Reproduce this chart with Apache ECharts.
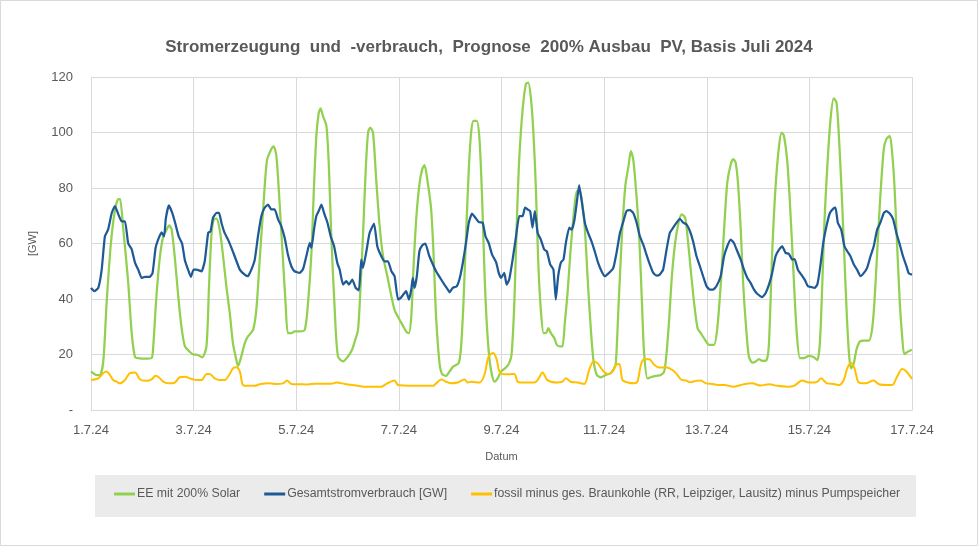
<!DOCTYPE html>
<html>
<head>
<meta charset="utf-8">
<script src="https://cdn.jsdelivr.net/npm/echarts@6/dist/echarts.min.js"></script>
<style>html,body{margin:0;padding:0;background:#fff}#c{width:978px;height:546px}</style>
</head>
<body>
<div id="c"></div>
<script>
// x values: hours since 1.7.24 00:00
const tickLabels = ['1.7.24','3.7.24','5.7.24','7.7.24','9.7.24','11.7.24','13.7.24','15.7.24','17.7.24'];
const seriesNames = ['EE mit 200% Solar','Gesamtstromverbrauch [GW]','fossil minus ges. Braunkohle (RR, Leipziger, Lausitz) minus Pumpspeicher'];

const eeSolar = [
[0,13.9],[2.7,12.6],[4.2,12.6],[5.8,18],[7.3,38.5],[9.3,60],[11.2,72],[12.8,76],[13.6,76],[15,66],[17.4,46],[19,28],[20.6,19],[22,18.7],[25,18.5],[28.3,18.7],[29,21.7],[30.6,41],[32.2,55],[33.8,62.6],[35.4,65],[36.6,66.5],[37.7,65],[39.2,55],[40.8,41],[42.3,30],[43.9,23],[46.2,21],[48,20],
[49.3,20],[52,19],[54,22.9],[55.2,44.6],[56.3,62.6],[57.4,68.7],[58.7,69],[60.2,65],[61.8,55.4],[63.3,44.6],[64.9,35],[66.4,24],[68,18],[68.8,15.9],[70.3,19.3],[71.9,24],[73.4,26.5],[75.8,28.9],[77.3,36],[78.9,54],[80.5,72],[82.3,90],[84.3,94],[85.4,95],[86.7,91.6],[88.2,74.7],[89.8,54],[91,38.5],[92.1,27.7],[93.7,27.7],[95.2,28.3],
[97.6,28.3],[100,28.9],[101.5,38.5],[103.1,56.6],[104.3,80.7],[105.4,98.8],[106.5,107],[107.4,108.7],[108.5,106],[110.1,102.4],[111.2,89],[112.4,62.6],[114,36],[115.5,19.3],[117.9,17.5],[120.2,19.3],[122.1,21.7],[123.6,25.3],[124.9,28.9],[126.1,44.6],[127.2,62.6],[128.5,86.7],[129.6,100],[130.6,101.8],[131.9,100],[133.4,83],[135,66.3],[136.6,55.4],[138.6,48.2],[140.5,41],[142,36],[144,33],[145.8,30.5],[147.4,28.3],[148.7,27.7],
[149.8,33.7],[150.8,50.6],[152.1,68.7],[153.6,81.3],[154.9,86.7],[156,88.2],[157.5,81.9],[159.1,72.3],[160.2,56.6],[161.4,33.7],[163,16.9],[164.2,13],[166.1,12.3],[167.7,13.9],[169.5,15.7],[172,16.9],[173.1,22.9],[174.2,38.5],[175.4,62.6],[176.7,86.7],[177.8,100],[178.9,104.2],[180.4,104.2],[181.7,97.6],[182.9,77],[184,50.6],[185.1,31.3],[186.6,16.9],[188.7,10.2],[190.2,11.4],[191.8,13.9],[194.1,15.3],[195.6,16.9],
[196.7,19.9],[198,38.5],[199.2,68.7],[200.3,90.4],[201.9,108.4],[203.4,117.5],[204.5,118],[205.8,112],[207,98.8],[208.1,79.5],[209.2,53],[210.4,36],[211.7,27.7],[212.8,27.7],[213.9,29.5],[215.1,27.7],[216.7,25.9],[217.9,23.5],[219.5,22.9],[220.5,22.9],[221.6,31.3],[222.9,42.2],[224.1,55.4],[225.7,69.9],[227.2,78.9],[228.3,78.9],[229.4,76.5],[231,65],[232.5,44.6],[233.8,28.9],[235,18],[236.6,12.6],[238.5,11.8],[240.8,12.6],[243.1,13.3],
[244.7,15],[245.5,16.9],[246.8,38.5],[248.3,62.6],[249.9,80.7],[251.4,87.9],[252.5,93.3],[253.6,90.4],[254.9,79.5],[256.4,62.6],[257.7,38.5],[258.7,20.5],[260.3,11.4],[261.8,11.8],[264.2,12.3],[266.5,12.6],[268.1,13.9],[269.2,20.5],[270.4,32.5],[271.7,48.2],[273.2,60.2],[274.8,67.5],[276.3,70.5],[277.9,69.3],[279,62.6],[280.5,50.6],[282.1,38.5],[283.7,29.5],[285.2,27.7],[287.2,25.3],[289.1,23.5],[291.4,23.5],[293,30],
[294.8,48.2],[296.1,65],[297.6,81.9],[299.2,88.5],[300.4,90.4],[301.5,89.2],[302.6,81.9],[303.9,65],[305.1,44.6],[306.5,28.9],[307.7,19.3],[309.3,17.1],[310.9,17.5],[312.4,18.3],[314,17.7],[316,18],[317.1,24],[318.6,56.6],[320.2,80.7],[321.8,95.1],[323,100],[324.1,98.8],[325.7,89.2],[326.9,74.7],[328.5,50.6],[330,28.9],[331.6,18.7],[333.4,18.7],[335.8,19.5],[338.1,19],[339.7,18],
[340.9,24],[342,44.6],[343.1,68.7],[344.3,86.7],[345.9,104.8],[347.4,112.3],[348.7,110.8],[349.8,98.8],[350.9,81.9],[352.1,60.2],[353.4,36],[354.5,20.5],[355.5,15],[356.8,16.9],[358,21.7],[359.6,24.7],[361.5,25],[363.8,25],[365.3,28.9],[366.4,38.5],[367.7,56.6],[369.2,77.1],[370.8,94],[372,97.6],[373.6,98.8],[374.7,92.8],[375.8,80.7],[377,60.2],[378.3,38.5],[379.4,26.5],[380.4,20.1],[382,21],[384,21.7]
];

const gesamtverbrauch = [
[0,44],[1.5,42.8],[3.4,44],[5,50.6],[6.5,62.6],[8,65],[9.7,71],[11.2,73.5],[12.8,70.5],[14.3,68],[15.9,68],[17.4,60],[19,58],[20.6,53],[22.1,50.6],[23.7,47.6],[25.2,48],[27.5,48],[28.8,49.4],[30.2,58.4],[31.4,61.4],[33,64],[34.2,62.6],[35,69],[36.4,73.7],[38,71],[39.5,67],[41,62.6],[42.6,60],[43.9,54],[45.4,50.6],[46.7,48],[48,50.6],
[49.3,50.6],[51.7,50],[53.2,53.6],[54.8,63.8],[55.9,64.4],[57.1,69.3],[58.7,71],[59.9,71],[61,67.5],[62.5,63.8],[64.1,61.4],[65.7,58.4],[67.2,55.4],[69.6,50.6],[71.9,48.8],[73.4,48.2],[75,50.6],[76.6,54.2],[78.1,62.6],[79.7,69.9],[81.2,72.9],[82.8,74],[84.3,72.3],[85.9,72.3],[87.5,68.7],[89,66.3],[90.6,62],[92.1,56],[93.7,51.8],[95.2,50],[97.6,49.4],
[99.2,50.8],[100.7,55.4],[102.3,60.2],[103.1,58.4],[104.3,65],[105.4,69.9],[106.5,71.7],[107.8,74],[109,71],[110.6,67.5],[112.1,62.6],[113.7,59],[115.2,53],[116.3,50.6],[117.9,45.2],[119.4,46.4],[120.7,45.2],[122.2,47],[123.8,44],[125.3,43.1],[126.4,54.2],[127.2,51.2],[128.8,57.2],[130.3,63.8],[132.4,67.2],[133.9,59],[135.8,55.4],[137.3,53.6],[138.9,53.6],[140.5,50],[142,48.2],[143.6,39.8],
[145,40.5],[147.4,42.8],[148.7,39.8],[149.8,43.4],[150.5,47.6],[151.3,44],[152.4,48.2],[153.6,57.2],[154.9,59.3],[156.4,60],[158,56],[159.6,53],[161.4,50],[163.3,47.6],[165.3,45.2],[166.9,43.4],[167.7,42.4],[169.2,44],[171.1,44.6],[172.3,47],[173.9,53],[175.4,60.2],[176.7,67.5],[178.2,70.8],[179.8,69.3],[181.4,67.7],[183.2,67.5],[184.5,62.6],[186,60.2],[187.6,56],[189.5,53.2],[190.7,49.4],[191.8,47.6],[193.3,49.4],[194.4,45.2],[195.6,47],
[197.2,54.2],[198.8,62.6],[200.3,69.9],[201.9,69.9],[203,72.9],[204.2,72.3],[205.4,71.7],[206.5,65.7],[207.6,71.7],[208.9,63.8],[210.4,61.4],[212,57.8],[213.2,57.2],[214.8,52.4],[216.3,50.6],[217.4,39.8],[218.5,48.2],[219.8,53.2],[221,54.2],[222.1,60.2],[223.7,65.7],[224.8,65],[226,68],[227.2,74.7],[228.3,81],[229.4,75.9],[231,67.5],[232.5,63.8],[234.1,60.8],[235.6,57.2],[237.2,53],[238.8,50],[240.3,48.2],[242.3,49.4],
[244.3,51.2],[245.8,56.6],[247.4,63.8],[249,68],[250.5,71.7],[252.1,72],[253.6,71],[255.2,67.5],[256.7,62.6],[258.3,59.6],[259.8,56],[261.4,52.4],[263,49.4],[264.5,48.4],[266,48.8],[267.6,50.6],[269.2,57.8],[270.7,63.8],[272.3,65.7],[273.9,67.5],[275.4,68.9],[277,67.5],[278.5,66.9],[280.1,64.5],[281.6,60.8],[283.2,55.4],[284.8,51.8],[286.3,48.2],[287.9,44.6],[289.4,43.4],[291,43.4],[292.5,44.6],
[294.5,48.2],[296.1,55.4],[297.6,59],[299.2,61.4],[300.7,60.2],[302.3,57.2],[303.9,54.2],[305.4,50.6],[307,47.6],[308.5,45.8],[310.1,43.4],[311.6,41.9],[314,40.7],[315.5,42.1],[317.1,45.2],[318.6,49.4],[320.2,55.4],[321.8,57.8],[323.3,59],[324.9,56.6],[326.4,56.3],[328,54.2],[329.1,54.4],[330.6,50.6],[332.2,48.8],[333.8,47],[335.3,44.6],[336.9,44.3],[338.4,44],[339.7,45.2],
[340.9,50.6],[342.5,60.2],[344,66.3],[345.6,71],[347.1,72.5],[348.2,72.9],[349.3,67.5],[350.9,65],[352.4,59],[353.7,57.2],[355.2,55.4],[356.8,52.4],[358.3,50.6],[359.9,48.2],[361.5,49.4],[363,51.2],[364.6,55.4],[366.1,59],[367.7,65],[369.2,67.5],[370.8,71],[372,71.7],[373.6,70.8],[375.2,68.7],[376.7,63.8],[378.3,59.6],[379.8,55.4],[381.4,51.8],[382.5,49.2],[384,48.8]
];

const fossilRest = [
[0,10.8],[3.4,11.4],[5.8,13.3],[7.3,13.9],[8.9,12.6],[10.4,10.8],[12,10.2],[13.5,9.6],[15.9,10.8],[18.2,13.3],[20.6,13.5],[23,11],[26.1,10.5],[28.3,11],[30.2,12.3],[31.7,11.8],[33.8,10.2],[36.1,9.6],[39.2,9.9],[41.5,11.8],[43.9,12],[46.2,11.4],[48,11],
[49.3,10.8],[51.7,10.8],[54,13],[55.5,13],[57.9,11.4],[60.2,10.8],[62.5,10.8],[64.6,12.6],[66.4,15],[68,15.4],[69.6,13.9],[71.1,9],[73.4,8.7],[76.6,8.7],[78.9,9.3],[83.6,9.6],[86.7,9.4],[89.8,9.6],[91.7,10.6],[93.7,9.4],[97.6,9.3],
[101.5,9.2],[104.6,9.5],[112.4,9.5],[114.8,9.9],[118.7,9.4],[123.3,8.9],[128,8.4],[135.8,8.4],[138.1,9.4],[142,10.6],[143.6,9],[146.7,8.8],
[150,8.7],[160,8.7],[161.4,9.6],[163.8,11],[166.1,10.2],[168.4,9.6],[171.5,9.9],[174.7,11],[176.2,9.9],[177.8,10.2],[181.7,9.9],[184,12.6],[186,19.3],[188.2,20.5],[189.8,18],[191,13.9],[193.3,12.9],[195.7,12.9],
[198,13],[199.5,10.2],[201.1,9.9],[207.3,9.9],[208.9,10.8],[211.2,13.5],[213.2,11],[215.1,10.2],[218.2,9.9],[220.5,10.2],[222.1,11.4],[224.4,10.2],[227.5,9.9],[230.7,9.4],[233,14.4],[235,17.5],[236.9,16.9],[239.2,14.4],[241.6,13],[244,13.9],
[245.5,16.3],[247.1,16.6],[248.6,10.8],[251,9.9],[254.1,9.6],[255.6,10.2],[257.2,16.3],[258.7,18.3],[261.1,18.3],[263.4,16.3],[265.8,15.3],[268.9,15.4],[272,14.4],[274.3,12.6],[275.9,11],[278.2,10.6],[280.5,10],[282.9,10.5],[285.2,10.6],[287.6,9.6],[290.7,9.4],[293.8,9],
[296.1,9],[300.7,8.4],[305.4,9.3],[309.3,9.6],[313.2,8.8],[317.1,9.3],[321,8.7],[325.7,8.4],[328.8,8.7],[332.6,10.6],[335.8,9.9],[338.1,9.9],[339.7,10.2],[341.5,11.4],
[344.3,9.6],[347.4,9.4],[349.8,9],[352.1,10.8],[353.7,15],[355.5,16.9],[357.1,15],[359.1,9.9],[362.2,9.6],[366.1,10.6],[368.5,9.3],[372.4,9],[374.7,9],[377,12],[379.4,14.8],[381.4,13.9],[384,11.2]
];

const colors = ['#92D050', '#1F5A96', '#FFC000'];
const txt = '#595959';
const font = '"Liberation Sans", Arial, sans-serif';

const chart = echarts.init(document.getElementById('c'), null, {renderer: 'canvas'});
chart.setOption({
  backgroundColor: '#ffffff',
  animation: false,
  textStyle: {fontFamily: font},
  title: {
    text: 'Stromerzeugung  und  -verbrauch,  Prognose  200% Ausbau  PV, Basis Juli 2024',
    left: 'center', top: 34,
    textStyle: {fontSize: 17, fontWeight: 'bold', color: txt, fontFamily: font}
  },
  graphic: [
    {type: 'rect', shape: {x: 0.5, y: 0.5, width: 977, height: 545}, style: {fill: 'none', stroke: '#D9D9D9', lineWidth: 1}, z: -10},
    {type: 'rect', shape: {x: 95, y: 475, width: 821, height: 42}, style: {fill: '#EBEBEB'}, z: -5}
  ],
  legend: {
    data: seriesNames,
    top: 488,
    left: 114,
    padding: 0,
    icon: 'rect',
    itemWidth: 21,
    itemHeight: 3,
    itemGap: 24,
    textStyle: {fontSize: 12.3, color: txt, fontFamily: font, padding: [0, 0, 0, -3]}
  },
  grid: {left: 91, right: 66, top: 77, bottom: 136, containLabel: false},
  xAxis: {
    type: 'value', min: 0, max: 384, interval: 48,
    name: 'Datum', nameLocation: 'middle', nameGap: 41,
    nameTextStyle: {fontSize: 11, color: txt, fontFamily: font},
    axisLine: {show: true, lineStyle: {color: '#D9D9D9'}},
    axisTick: {show: false},
    axisLabel: {
      fontSize: 13, color: txt, margin: 14, fontFamily: font,
      formatter: v => tickLabels[Math.round(v / 48)] || ''
    },
    splitLine: {show: true, lineStyle: {color: '#D9D9D9'}}
  },
  yAxis: {
    type: 'value', min: 0, max: 120, interval: 20,
    name: '[GW]', nameLocation: 'middle', nameGap: 53, nameRotate: 90,
    nameTextStyle: {fontSize: 11, color: txt, fontFamily: font},
    axisLine: {show: false},
    axisTick: {show: false},
    axisLabel: {
      fontSize: 13, color: txt, margin: 18, fontFamily: font,
      formatter: v => v === 0 ? '-' : String(v)
    },
    splitLine: {show: true, lineStyle: {color: '#D9D9D9'}}
  },
  series: [
    {name: seriesNames[0], type: 'line', data: eeSolar, showSymbol: false, smooth: 0.25, lineStyle: {width: 2.25, color: colors[0]}, itemStyle: {color: colors[0]}, z: 2},
    {name: seriesNames[1], type: 'line', data: gesamtverbrauch, showSymbol: false, smooth: 0.15, lineStyle: {width: 2.25, color: colors[1]}, itemStyle: {color: colors[1]}, z: 3},
    {name: seriesNames[2], type: 'line', data: fossilRest, showSymbol: false, smooth: 0.3, lineStyle: {width: 2, color: colors[2]}, itemStyle: {color: colors[2]}, z: 4}
  ]
});
</script>
</body>
</html>
